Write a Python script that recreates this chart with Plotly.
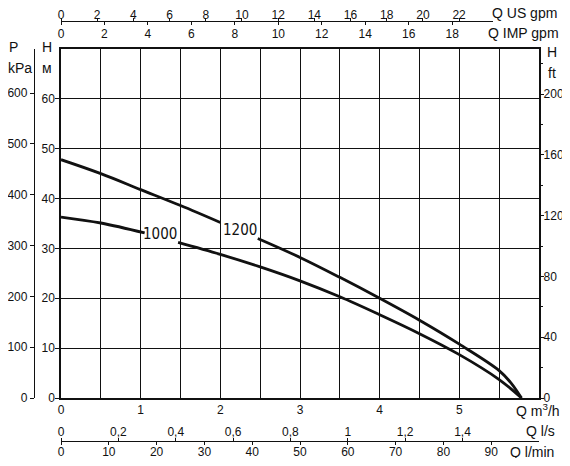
import plotly.graph_objects as go

# pump curves, H (m) against Q (m3/h)
q_1200 = [0, 0.5, 1.0, 1.5, 2.0, None, 2.47, 3.0, 3.5, 4.0, 4.5, 5.0, 5.5, 5.65, 5.78]
h_1200 = [47.8, 45.0, 41.8, 38.6, 35.2, None, 32.0, 28.2, 24.2, 20.0, 15.6, 10.8, 5.5, 3.0, 0]
q_1000 = [0, 0.5, 1.05, None, 1.47, 2.0, 2.5, 3.0, 3.5, 4.0, 4.5, 5.0, 5.5, 5.78]
h_1000 = [36.3, 35.1, 33.1, None, 31.2, 28.8, 26.3, 23.5, 20.3, 16.7, 12.9, 8.7, 3.7, 0]

curve_labels = ["1000", "1200"]
label_q = [1.24, 2.25]
label_h = [32.8, 33.6]

q_ticks = [0, 1, 2, 3, 4, 5]
h_ticks = [0, 10, 20, 30, 40, 50, 60]
p_ticks = [0, 100, 200, 300, 400, 500, 600]
ft_ticks = [0, 40, 80, 120, 160, 200]
usgpm_ticks = [0, 2, 4, 6, 8, 10, 12, 14, 16, 18, 20, 22]
impgpm_ticks = [0, 2, 4, 6, 8, 10, 12, 14, 16, 18]
ls_ticks = [0, 0.2, 0.4, 0.6, 0.8, 1.0, 1.2, 1.4]
ls_text = ["0", "0,2", "0,4", "0,6", "0,8", "1", "1,2", "1,4"]
lmin_ticks = [0, 10, 20, 30, 40, 50, 60, 70, 80, 90]

Q_MAX = 6
H_MAX = 70
KPA_PER_M = 9.81
FT_PER_M = 3.28084
USGPM = 4.40287
IMPGPM = 3.66615

# the page body has an 8px margin, so the figure is drawn 8px in
OFF = 8
W, HT = 554, 450
ml, mr, mt, mb = 10, 20, 6, 10
pw = W - ml - mr
ph = HT - mt - mb


def px(x):
    # window pixel -> paper fraction
    return (x - OFF - ml) / pw


def py(y):
    return (HT - mb - (y - OFF)) / ph


x0, x1 = px(61), px(539)
y0, y1 = py(398), py(49)
top_end = px(493)
q_top_end = Q_MAX * (top_end - x0) / (x1 - x0)

ink = "#111"
font = dict(family="Liberation Sans, Arial, sans-serif", size=12, color=ink)

fig = go.Figure()
for q, h in [(q_1200, h_1200), (q_1000, h_1000)]:
    fig.add_trace(go.Scatter(x=q, y=h, mode="lines", line=dict(color=ink, width=2.8, shape="spline"),
                             connectgaps=False, showlegend=False, hoverinfo="skip"))

axis_common = dict(showline=True, linecolor=ink, linewidth=1.3, ticks="outside", tickcolor=ink,
                   tickwidth=1.2, ticklen=4, tickfont=font, showgrid=False, zeroline=False,
                   fixedrange=True, automargin=False)

fig.update_layout(
    width=W, height=HT,
    margin=dict(l=ml, r=mr, t=mt, b=mb, autoexpand=False),
    paper_bgcolor="white", plot_bgcolor="rgba(0,0,0,0)",
    font=font,
    xaxis=dict(domain=[x0, x1], range=[0, Q_MAX], tickvals=q_ticks, showline=True, mirror=True,
               linecolor=ink, linewidth=1.5, showgrid=True, gridcolor=ink, gridwidth=1.4,
               minor=dict(dtick=0.5, tick0=0, showgrid=True, gridcolor=ink, gridwidth=1.4),
               ticks="", tickfont=font, zeroline=False, fixedrange=True, automargin=False),
    yaxis=dict(domain=[y0, y1], range=[0, H_MAX], tickvals=h_ticks, showline=True, mirror=True,
               linecolor=ink, linewidth=1.5, showgrid=True, gridcolor=ink, gridwidth=1.4,
               ticks="outside", ticklen=4, tickcolor=ink, tickfont=font, zeroline=False,
               fixedrange=True, automargin=False, ticklabelstandoff=-2),
    yaxis2=dict(axis_common, overlaying="y", anchor="free", position=px(34), side="left",
                range=[0, H_MAX * KPA_PER_M], tickvals=p_ticks),
    yaxis3=dict(axis_common, overlaying="y", anchor="x", side="right",
                range=[0, H_MAX * FT_PER_M], tickvals=ft_ticks, ticklabelstandoff=-3,
                minor=dict(dtick=20, ticks="outside", ticklen=3, tickcolor=ink)),
    xaxis2=dict(axis_common, overlaying="x", anchor="free", position=py(441), side="top",
                domain=[x0, x1], range=[0, Q_MAX / 3.6], tickvals=ls_ticks, ticktext=ls_text,
                ticklabelstandoff=-3, ticklen=3),
    xaxis3=dict(axis_common, overlaying="x", anchor="free", position=py(441), side="bottom",
                domain=[x0, x1], range=[0, Q_MAX * 1000 / 60], tickvals=lmin_ticks,
                ticklabelstandoff=-4, ticklen=3),
    xaxis4=dict(axis_common, anchor="free", position=py(21), side="top",
                domain=[x0, top_end], range=[0, q_top_end * USGPM], tickvals=usgpm_ticks,
                ticklabelstandoff=-6, ticklen=3),
    xaxis5=dict(axis_common, overlaying="x4", anchor="free", position=py(21), side="bottom",
                domain=[x0, top_end], range=[0, q_top_end * IMPGPM], tickvals=impgpm_ticks,
                ticklabelstandoff=-2, ticklen=3),
)

# dummy traces so every extra axis is drawn
for xa, ya in [("x", "y2"), ("x", "y3"), ("x2", "y"), ("x3", "y"), ("x4", "y"), ("x5", "y")]:
    fig.add_trace(go.Scatter(x=[None], y=[None], xaxis=xa, yaxis=ya, showlegend=False, hoverinfo="skip"))

for txt, q, h in zip(curve_labels, label_q, label_h):
    fig.add_annotation(x=q, y=h, xref="x", yref="y", text=txt, showarrow=False,
                       font=dict(family="DejaVu Sans Condensed, Liberation Sans Narrow, sans-serif",
                                 size=15, color=ink))

big = dict(family="Liberation Sans, Arial, sans-serif", size=14, color=ink)
side_labels = [
    ("Q US gpm", 559, 13, "right"), ("Q IMP gpm", 561, 33, "right"),
    ("Q m<sup>3</sup>/h", 562, 410, "right"), ("Q l/s", 557, 431, "right"),
    ("Q l/min", 556, 452, "right"),
    ("P", 13, 47, "center"), ("kPa", 20, 68, "center"),
    ("H", 47, 47, "center"), ("м", 47, 68, "center"),
    ("H", 552, 52, "center"), ("ft", 552, 73, "center"),
]
for txt, x, y, anchor in side_labels:
    fig.add_annotation(x=px(x), y=py(y), xref="paper", yref="paper", text=txt, showarrow=False,
                       xanchor=anchor, yanchor="middle", font=big)

fig.write_html("out.html")
